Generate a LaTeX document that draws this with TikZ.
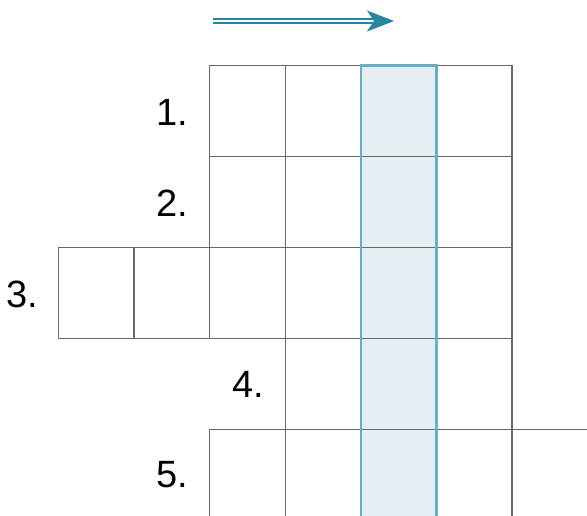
\documentclass[tikz,border=0pt]{standalone}
\usepackage{fontspec}
\setmainfont{Liberation Sans}
\usetikzlibrary{arrows.meta}
\definecolor{gridgray}{RGB}{105,105,105}
\definecolor{hlfill}{RGB}{227,239,242}
\definecolor{hlborder}{RGB}{106,174,196}
\definecolor{arrowteal}{RGB}{42,134,160}
\begin{document}
\begin{tikzpicture}[x=1pt,y=-1pt,
  cell/.style={draw=gridgray,line width=1.4pt},
  lbl/.style={font=\fontsize{38}{40}\selectfont, anchor=base east, inner sep=0pt},
  hlbox/.style={draw=hlborder, line width=2.4pt},
  dirarrow/.style={draw=arrowteal, double, double distance=1.7pt, line width=1.7pt,
     -{Stealth[length=27pt,width=21pt,inset=7pt]}}]
\clip (0,0) rectangle (587,515);
\fill[hlfill] (360.9,65.5) rectangle (436.5,530);
\foreach \r/\a/\b in {0/2/5, 1/2/5, 2/0/5, 3/3/5, 4/2/6} {
  \foreach \c in {\a,...,\b} {
    \draw[cell] ({58.5+75.6*\c},{65.5+91*\r}) rectangle ++(75.6,91);
  }
}
\draw[hlbox] (360.9,530) -- (360.9,65.5) -- (436.5,65.5) -- (436.5,530);
\node[lbl] (l1) at (188.7,125.5) {1.};
\node[lbl] (l2) at (188.7,216.5) {2.};
\node[lbl] (l3) at (38.5,307) {3.};
\node[lbl] (l4) at (264.3,397.5) {4.};
\node[lbl] (l5) at (188.7,487.5) {5.};
\coordinate (as) at (213,21);
\coordinate (ae) at (394,21);
\draw[dirarrow] (as) -- (ae);
\end{tikzpicture}
\end{document}
